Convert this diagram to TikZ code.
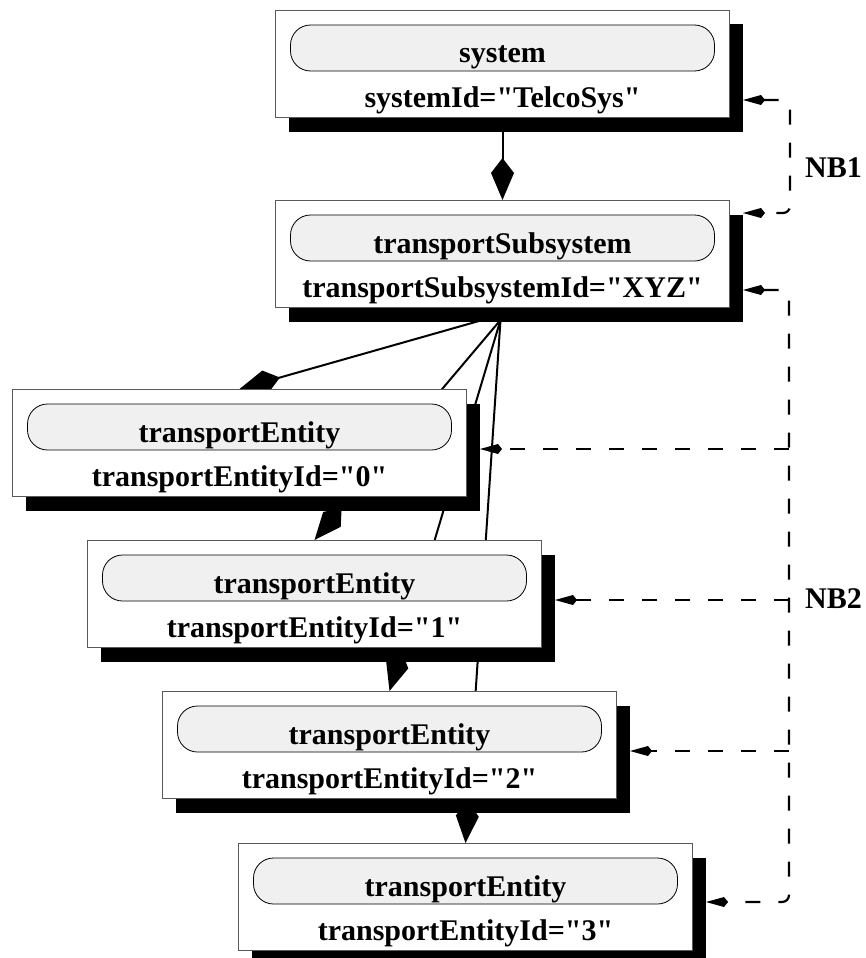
\documentclass[tikz,border=0pt]{standalone}
\usepackage{fontspec}
% plain family without TeX ligatures, so that " stays a straight quote
\newfontfamily\labelfont{Liberation Serif}
\usetikzlibrary{arrows.meta,calc,shadows}
\pgfdeclarelayer{links}
\pgfsetlayers{links,main}

% one object box: name, top-left corner, class name, identifier text
\newcommand\umlobject[4]{%
  \node[classbox] (#1) at #2 {};
  \node[namepill] (#1-pill) at ($(#1.north)+(0,38)$) {};
  \node[nametext] (#1-name) at ($(#1.north)+(0,53)$) {#3};
  \node[nametext] (#1-id) at ($(#1.north)+(0,97)$) {#4};
}

\tikzset{
  bigkite/.tip={Kite[length=42pt,width=23pt,inset=15pt]},
  smallkite/.tip={Kite[length=22pt,width=10pt,inset=4pt]},
}

\begin{document}
\begin{tikzpicture}[x=1pt,y=-1pt,
  font=\labelfont\bfseries\fontsize{30}{36}\selectfont,
  classbox/.style={rectangle, draw=black!65, line width=1pt, fill=white,
    minimum width=454pt, minimum height=107pt, anchor=north west, inner sep=0pt,
    drop shadow={shadow xshift=13pt, shadow yshift=-14pt, opacity=1, fill=black}},
  namepill/.style={rectangle, draw=black, line width=0.8pt, fill=black!6,
    rounded corners=20pt, minimum width=424pt, minimum height=46pt, inner sep=0pt},
  nametext/.style={anchor=base, inner sep=0pt},
  comp/.style={line width=2pt, -bigkite},
  nbline/.style={line width=2.2pt, dash pattern=on 15pt off 18pt},
]
\useasboundingbox (0,0) rectangle (866,958);
\clip (0,0) rectangle (866,958);

% object boxes
\umlobject{sys}{(275,10)}{system}{systemId="TelcoSys"}
\umlobject{ts}{(275,200)}{transportSubsystem}{transportSubsystemId="XYZ"}
\umlobject{te0}{(12,389)}{transportEntity}{transportEntityId="0"}
\umlobject{te1}{(87,540)}{transportEntity}{transportEntityId="1"}
\umlobject{te2}{(162,691)}{transportEntity}{transportEntityId="2"}
\umlobject{te3}{(238,843)}{transportEntity}{transportEntityId="3"}

% note labels
\node[anchor=base west, inner sep=0pt] (nb1) at (805,177) {NB1};
\node[anchor=base west, inner sep=0pt] (nb2) at (805,608) {NB2};

% attachment points on the right of the shadows
\coordinate (sysR) at ($(sys.north east)+(13,90)$);
\coordinate (tsR1) at ($(ts.north east)+(13,13)$);
\coordinate (tsR2) at ($(ts.north east)+(13,90)$);
\coordinate (te0R) at ($(te0.north east)+(13,60)$);
\coordinate (te1R) at ($(te1.north east)+(13,60)$);
\coordinate (te2R) at ($(te2.north east)+(13,60)$);
\coordinate (te3R) at ($(te3.north east)+(13,59)$);
\coordinate (nb1x) at (790,0);
\coordinate (nb2x) at (789,0);

\begin{pgfonlayer}{links}
  % containment links
  \coordinate (hubA) at ($(ts.south)+(-20,12)$);
  \coordinate (hub) at ($(ts.south)+(-2,12)$);
  \draw[comp] (sys.south) -- (ts.north);
  \draw[comp] (hubA) -- (te0.north);
  \draw[comp] (hub) -- (te1.north);
  \draw[comp] (hub) -- (te2.north);
  \draw[comp] (hub) -- (te3.north);

  % note brackets
  \draw[nbline, rounded corners=7pt, smallkite-smallkite]
    (sysR) -- (sysR -| nb1x) -- (tsR1 -| nb1x) -- (tsR1);
  \draw[nbline, rounded corners=7pt, smallkite-smallkite]
    (tsR2) -- (tsR2 -| nb2x) -- (te3R -| nb2x) -- (te3R);
  \draw[nbline, -smallkite] (te0R -| nb2x) -- (te0R);
  \draw[nbline, -smallkite] (te1R -| nb2x) -- (te1R);
  \draw[nbline, -smallkite] (te2R -| nb2x) -- (te2R);
\end{pgfonlayer}
\end{tikzpicture}
\end{document}
